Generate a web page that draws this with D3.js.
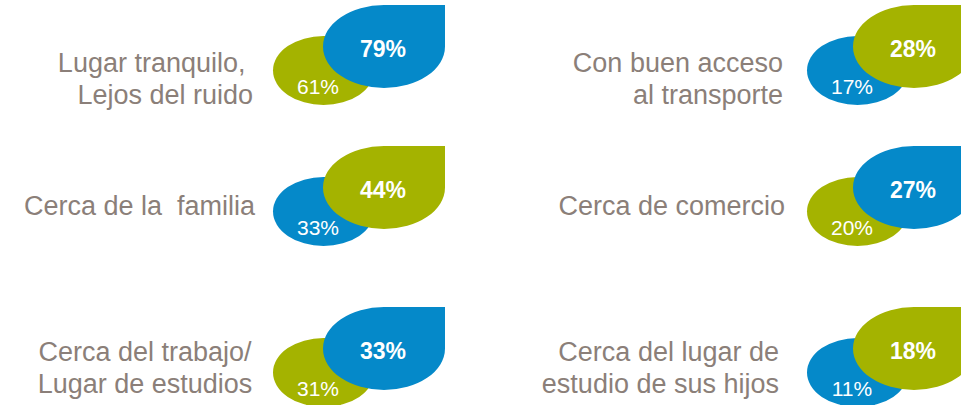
<!DOCTYPE html>
<html>
<head>
<meta charset="utf-8">
<script src="https://cdn.jsdelivr.net/npm/d3@7/dist/d3.min.js"></script>
<style>
  html, body { margin: 0; padding: 0; background: #ffffff; overflow: hidden; }
  svg { display: block; }
  text { font-family: "Liberation Sans", Arial, sans-serif; }
</style>
</head>
<body>
<svg id="chart" width="961" height="405"></svg>
<script>
// ---- Data ----
const categories = [
  ["Lugar tranquilo, ", "Lejos del ruido"],
  ["Cerca de la  familia"],
  ["Cerca del trabajo/", "Lugar de estudios"],
  ["Con buen acceso", "al transporte"],
  ["Cerca de comercio"],
  ["Cerca del lugar de", "estudio de sus hijos"]
];
const seriesNames = ["Azul", "Verde"];
const blueValues  = [79, 33, 33, 17, 27, 11];
const greenValues = [61, 44, 31, 28, 20, 18];

// ---- Layout ----
const svg = d3.select("#chart");
const color = d3.scaleOrdinal().domain(seriesNames).range(["#0589c9", "#a4b300"]);
const rowY = d3.scaleOrdinal().domain([0, 1, 2]).range([5, 146, 307]);
const colX = d3.scaleOrdinal().domain([0, 1]).range([323, 853]);
const smallDX = d3.scaleOrdinal().domain([0, 1]).range([-50, -46]);
const bigW = 122, bigH = 83, smallW = 101, smallH = 69;

const data = categories.map((lines, i) => {
  const b = blueValues[i], g = greenValues[i];
  const big = b >= g ? { s: seriesNames[0], v: b } : { s: seriesNames[1], v: g };
  const small = b >= g ? { s: seriesNames[1], v: g } : { s: seriesNames[0], v: b };
  return { lines, big, small, col: Math.floor(i / 3), row: i % 3, i };
});

// teardrop: ellipse with square top-right corner
function drop(x0, y0, w, h) {
  const rx = w / 2, ry = h / 2, cx = x0 + rx, cy = y0 + ry;
  return `M${cx},${y0} L${x0 + w},${y0} L${x0 + w},${cy} ` +
         `A${rx},${ry} 0 0 1 ${cx},${y0 + h} ` +
         `A${rx},${ry} 0 0 1 ${x0},${cy} ` +
         `A${rx},${ry} 0 0 1 ${cx},${y0} Z`;
}

const textColor = "#8b7f79";
const lineYByRow = { 0: [67, 99], 1: [69], 2: [54, 86] };
// text anchoring per item: [x, anchor]
const textPos = [
  [253, "end"], [255, "end"], [145, "middle"],
  [783, "end"], [785, "end"], [779, "end"]
];

const g = svg.selectAll("g.item").data(data).enter().append("g").attr("class", "item");

g.each(function (d) {
  const sel = d3.select(this);
  const top = rowY(d.row);
  const bx = colX(d.col);
  const sx = bx + smallDX(d.col);
  const sy = top + 31;

  sel.append("path")
    .attr("d", drop(sx, sy, smallW, smallH))
    .attr("fill", color(d.small.s));
  sel.append("path")
    .attr("d", drop(bx, top, bigW, bigH))
    .attr("fill", color(d.big.s));

  sel.append("text")
    .attr("x", bx + 60).attr("y", top + 52)
    .attr("text-anchor", "middle")
    .attr("fill", "#ffffff")
    .attr("font-size", 23).attr("font-weight", "bold")
    .text(d.big.v + "%");
  sel.append("text")
    .attr("x", sx + 45).attr("y", top + 89)
    .attr("text-anchor", "middle")
    .attr("fill", "#ffffff")
    .attr("font-size", 21)
    .text(d.small.v + "%");

  const ys = lineYByRow[d.row];
  const [tx, anchor] = textPos[d.i];
  d.lines.forEach((ln, k) => {
    sel.append("text")
      .attr("x", tx).attr("y", top + ys[k])
      .attr("text-anchor", anchor)
      .attr("fill", textColor)
      .attr("font-size", 27)
      .style("white-space", "pre")
      .text(ln);
  });
});
</script>
</body>
</html>
